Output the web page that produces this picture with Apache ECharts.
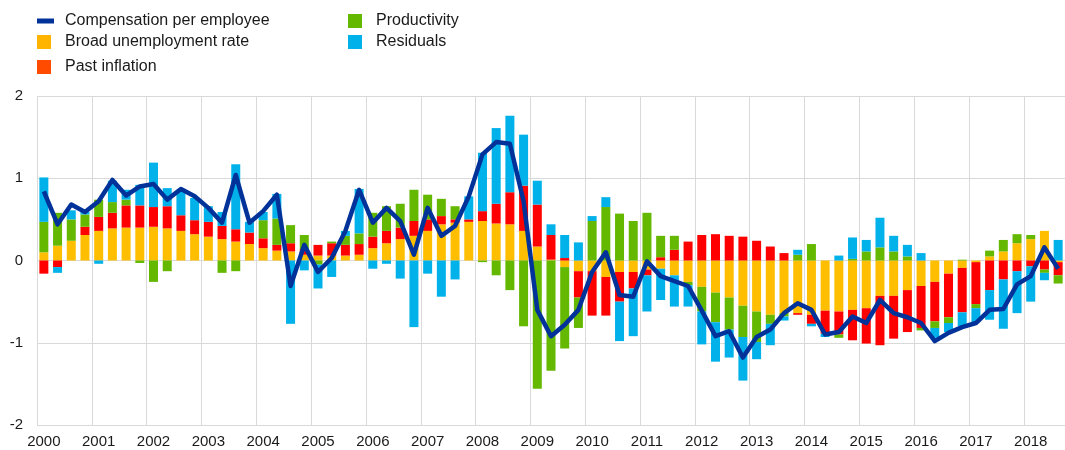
<!DOCTYPE html>
<html>
<head>
<meta charset="utf-8">
<script src="https://cdn.jsdelivr.net/npm/echarts@6/dist/echarts.min.js"></script>
<style>
  html, body { margin: 0; padding: 0; background: #fff; }
  #main { width: 1065px; height: 450px; }
</style>
</head>
<body>
<div id="main"></div>
<script>
// quarterly, 2000Q1 .. 2018Q3
var years = ["2000","2001","2002","2003","2004","2005","2006","2007","2008","2009",
  "2010","2011","2012","2013","2014","2015","2016","2017","2018"];
var quarterCount = 75;

var compensation = [0.84,0.44,0.68,0.59,0.72,0.98,0.79,0.90,0.93,0.74,0.87,0.78,0.64,0.46,1.04,0.46,
  0.60,0.80,-0.31,0.19,-0.14,0.03,0.36,0.86,0.46,0.64,0.48,0.07,0.64,0.30,0.42,0.78,
  1.29,1.44,1.42,0.72,-0.60,-0.92,-0.78,-0.60,-0.14,0.10,-0.42,-0.44,-0.01,-0.19,-0.25,-0.31,
  -0.61,-0.92,-0.86,-1.18,-0.93,-0.84,-0.64,-0.52,-0.60,-0.90,-0.87,-0.68,-0.76,-0.48,-0.64,-0.69,
  -0.76,-0.98,-0.88,-0.81,-0.76,-0.60,-0.59,-0.29,-0.19,0.16,-0.10];

var unemployment = [0.10,0.18,0.24,0.31,0.36,0.39,0.40,0.40,0.41,0.39,0.36,0.32,0.29,0.26,0.23,0.20,
  0.15,0.12,0.11,0.07,0.06,0.06,0.06,0.07,0.15,0.21,0.26,0.30,0.36,0.44,0.46,0.47,
  0.48,0.45,0.44,0.36,0.17,0.01,-0.08,-0.13,-0.13,-0.20,-0.14,-0.14,-0.11,-0.10,-0.18,-0.26,
  -0.32,-0.39,-0.45,-0.55,-0.62,-0.66,-0.64,-0.64,-0.66,-0.61,-0.62,-0.60,-0.58,-0.43,-0.43,-0.36,
  -0.31,-0.26,-0.16,-0.09,-0.02,0.05,0.11,0.21,0.26,0.36,-0.02];

var inflation = [-0.16,-0.08,0,0.10,0.17,0.19,0.27,0.27,0.24,0.27,0.19,0.17,0.18,0.16,0.15,0.14,
  0.12,0.07,0.10,0.07,0.13,0.15,0.13,0.13,0.14,0.15,0.14,0.18,0.14,0.10,0.04,0.03,
  0.12,0.24,0.39,0.55,0.51,0.30,0.03,-0.32,-0.54,-0.47,-0.36,-0.20,-0.07,0.04,0.13,0.23,
  0.31,0.32,0.30,0.29,0.24,0.17,0.09,-0.02,-0.11,-0.28,-0.28,-0.37,-0.43,-0.60,-0.52,-0.51,
  -0.51,-0.48,-0.53,-0.54,-0.51,-0.36,-0.23,-0.13,-0.07,-0.11,-0.16];

var productivity = [0.37,0.40,0.26,0.15,0.21,0.13,0.07,-0.03,-0.26,-0.13,0,0,0,-0.15,-0.13,0,
  0.22,0.32,0.22,0.17,-0.05,0.02,0.11,0.13,0.29,0.30,0.29,0.38,0.30,0.21,0.16,0,
  -0.02,-0.18,-0.36,-0.80,-1.56,-1.34,-0.99,-0.37,0.48,0.65,0.57,0.48,0.58,0.26,0.17,-0.04,
  -0.30,-0.36,-0.39,-0.38,-0.37,-0.11,-0.04,0.07,0.20,0,-0.04,0.02,0.11,0.16,0.11,0.05,
  -0.03,-0.08,-0.07,0.01,-0.05,0.07,0.14,0.11,0.05,-0.04,-0.10];

var residuals = [0.54,-0.07,0.11,0.03,-0.04,0.26,0.12,0.25,0.54,0.22,0.29,0.27,0.19,0.17,0.79,0.13,
  0.10,0.30,-0.77,-0.12,-0.29,-0.20,0.06,0.54,-0.10,-0.04,-0.22,-0.81,-0.16,-0.44,-0.23,0.28,
  0.71,0.92,0.93,0.62,0.29,0.13,0.28,0.22,0.06,0.12,-0.48,-0.58,-0.44,-0.38,-0.38,-0.26,
  -0.40,-0.48,-0.34,-0.53,-0.21,-0.26,-0.05,0.06,-0.03,-0.04,0.06,0.26,0.14,0.36,0.19,0.14,
  0.09,-0.12,-0.11,-0.17,-0.17,-0.36,-0.60,-0.51,-0.43,-0.09,0.25];

var yTicks = [-2, -1, 0, 1, 2];

var categories = [];
for (var y = 0; y < years.length; y++) {
  for (var q = 1; q <= 4; q++) {
    if (categories.length < quarterCount) categories.push(years[y] + "Q" + q);
  }
}

var FONT = "Arial, 'Liberation Sans', sans-serif";
var gridColor = "#d9d9d9";
var legendText = { fontSize: 16, color: "#1a1a1a", fontFamily: FONT };

function barSeries(name, data, color) {
  return {
    name: name,
    type: "bar",
    stack: "total",
    barWidth: 9,
    itemStyle: { color: color },
    data: data
  };
}

var myChart = echarts.init(document.getElementById("main"));
myChart.setOption({
  animation: false,
  textStyle: { fontFamily: FONT },
  legend: [
    {
      left: 32, top: 8, padding: 5,
      itemWidth: 17, itemHeight: 5,
      textStyle: Object.assign({ padding: [0, 0, 0, 6] }, legendText),
      data: [{ name: "Compensation per employee", icon: "rect", itemStyle: { color: "#003299" } }]
    },
    {
      left: 32, top: 29, orient: "vertical", padding: 5,
      itemWidth: 14, itemHeight: 14, itemGap: 9,
      textStyle: Object.assign({ padding: [0, 0, 0, 9] }, legendText),
      data: [
        { name: "Broad unemployment rate", icon: "rect", itemStyle: { color: "#FFB400" } },
        { name: "Past inflation", icon: "rect", itemStyle: { color: "#FF4B00" } }
      ]
    },
    {
      left: 343, top: 8, orient: "vertical", padding: 5,
      itemWidth: 14, itemHeight: 14, itemGap: 5,
      textStyle: Object.assign({ padding: [0, 0, 0, 9] }, legendText),
      data: [
        { name: "Productivity", icon: "rect", itemStyle: { color: "#65B800" } },
        { name: "Residuals", icon: "rect", itemStyle: { color: "#00B1EA" } }
      ]
    }
  ],
  grid: { left: 37, right: 0, top: 96, bottom: 25, containLabel: false },
  xAxis: {
    type: "category",
    data: categories,
    boundaryGap: true,
    axisLine: { show: false, onZero: false },
    axisTick: { show: false },
    axisLabel: {
      interval: 3,
      color: "#1a1a1a",
      fontSize: 15,
      margin: 9,
      formatter: function (v) { return v.slice(0, 4); }
    },
    splitLine: { show: true, interval: 3, lineStyle: { color: gridColor, width: 1 } }
  },
  yAxis: {
    type: "value",
    min: yTicks[0],
    max: yTicks[yTicks.length - 1],
    interval: 1,
    axisLine: { show: false },
    axisTick: { show: false },
    axisLabel: { color: "#1a1a1a", fontSize: 15, margin: 14 },
    splitLine: { lineStyle: { color: gridColor, width: 1 } }
  },
  series: [
    barSeries("Broad unemployment rate", unemployment, "#FFBF00"),
    barSeries("Past inflation", inflation, "#FF0000"),
    barSeries("Productivity", productivity, "#65B800"),
    barSeries("Residuals", residuals, "#00B1EA"),
    {
      name: "Compensation per employee",
      type: "line",
      data: compensation,
      symbol: "none",
      z: 10,
      lineStyle: { color: "#003299", width: 4.5, join: "round" },
      itemStyle: { color: "#003299" }
    }
  ]
});
</script>
</body>
</html>
